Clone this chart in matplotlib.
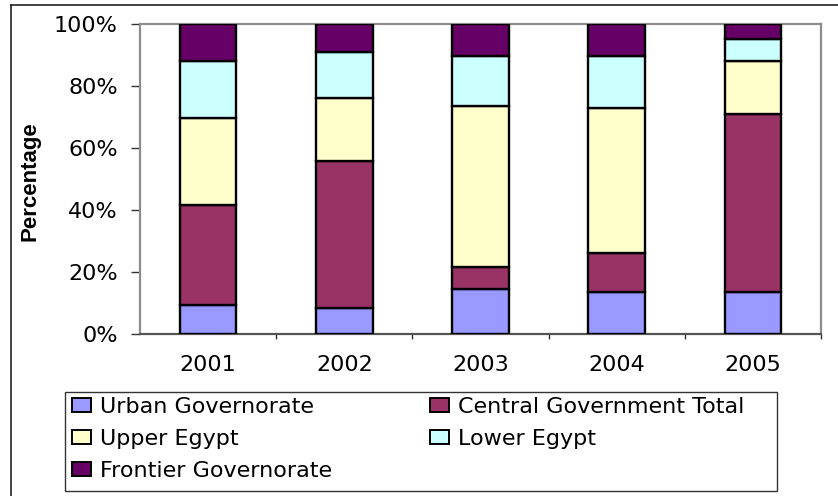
import matplotlib
matplotlib.use("Agg")
import matplotlib.pyplot as plt
from matplotlib.lines import Line2D
from matplotlib.patches import Rectangle, Patch
import numpy as np

plt.rcParams['font.family'] = ['DejaVu Sans']

years = ["2001", "2002", "2003", "2004", "2005"]
series_names = ["Urban Governorate", "Central Government Total", "Upper Egypt",
                "Lower Egypt", "Frontier Governorate"]
urban = [9.3, 8.3, 14.6, 13.7, 13.7]
central = [32.4, 47.4, 7.0, 12.4, 57.2]
upper = [28.0, 20.4, 52.0, 46.9, 17.3]
lower = [18.5, 14.8, 16.0, 16.6, 7.0]
frontier = [11.8, 9.1, 10.4, 10.4, 4.8]
yticks = [0, 20, 40, 60, 80, 100]
ytick_labels = ["0%", "20%", "40%", "60%", "80%", "100%"]

colors = ["#9999FF", "#993366", "#FFFFCC", "#CCFFFF", "#660066"]

W, H = 838, 496
fig = plt.figure(figsize=(W / 100, H / 100), dpi=100)
ax = fig.add_axes([140 / W, 1 - 334 / H, (821 - 140) / W, (334 - 24) / H])

x = np.arange(len(years))
values = [urban, central, upper, lower, frontier]
bottom = np.zeros(len(years))
handles = []
for name, vals, col in zip(series_names, values, colors):
    vals = np.array(vals, dtype=float)
    ax.bar(x, vals, width=0.415, bottom=bottom, color=col,
           edgecolor="black", linewidth=1.7, zorder=3)
    handles.append(Patch(facecolor=col, edgecolor="black", linewidth=1.4,
                         label=name))
    bottom += vals

ax.set_xlim(-0.5, len(years) - 0.5)
ax.set_ylim(0, 100)

ax.set_yticks(yticks)
ax.set_yticklabels(ytick_labels)
ax.set_xticks(x)
ax.set_xticklabels(years)
ax.set_xticks(np.arange(len(years)) + 0.5, minor=True)

ax.tick_params(axis="y", which="major", direction="out", length=6.5,
               width=1.0, color="#333333", labelsize=16, pad=9.5)
ax.tick_params(axis="x", which="major", length=0, labelsize=16, pad=15)
ax.tick_params(axis="x", which="minor", direction="out", length=3.5,
               width=1.0, color="#333333")

for side in ("left", "top", "right"):
    ax.spines[side].set_color("#8c8c8c")
    ax.spines[side].set_linewidth(1.6)
ax.spines["bottom"].set_color("#555555")
ax.spines["bottom"].set_linewidth(1.6)

fig.text(30 / W, 1 - 181 / H, "Percentage", rotation=90, ha="center",
         va="center", fontsize=16, fontweight="bold",
         family=["Liberation Sans", "DejaVu Sans"])

# legend laid out row by row: column 1 then column 2
order = [0, 2, 4, 1, 3]
leg = fig.legend([handles[i] for i in order], [series_names[i] for i in order],
                 ncol=2, loc="upper left",
                 bbox_to_anchor=(72 / W, 1 - 397 / H),
                 frameon=False, fontsize=16, borderpad=0, borderaxespad=0,
                 handlelength=0.85, handleheight=0.6, handletextpad=0.4,
                 columnspacing=4.43, labelspacing=0.54)

# legend frame
fig.patches.append(Rectangle((65 / W, 1 - 491 / H), (777 - 65) / W,
                             (491 - 392) / H, transform=fig.transFigure,
                             fill=False, edgecolor="#333333", linewidth=1.0))

# outer chart border (left and top edges visible)
fig.lines.append(Line2D([10.5 / W, 10.5 / W], [0, 1 - 5 / H],
                        transform=fig.transFigure, color="#222222",
                        linewidth=1.2))
fig.lines.append(Line2D([10.5 / W, 1], [1 - 5 / H, 1 - 5 / H],
                        transform=fig.transFigure, color="#222222",
                        linewidth=1.2))

fig.savefig("out.png", dpi=100, facecolor="white")
